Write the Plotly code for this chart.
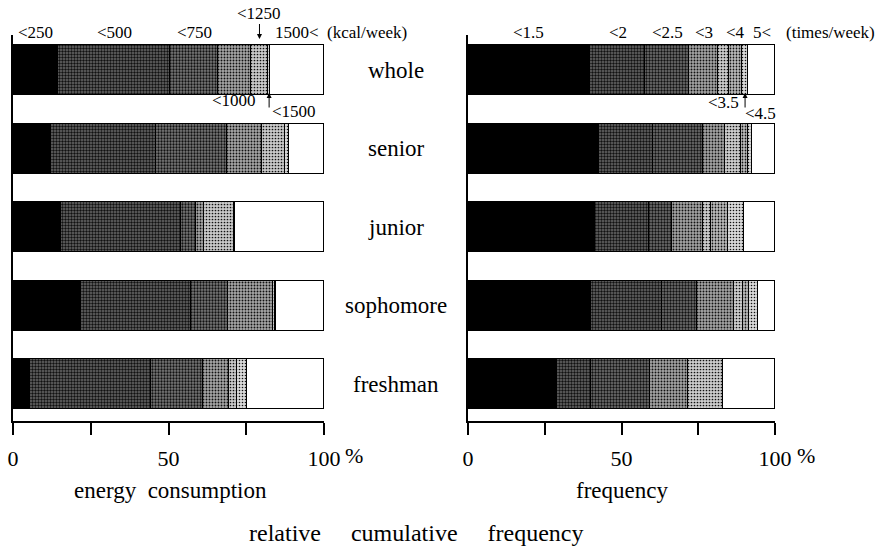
import plotly.graph_objects as go

# ---------------- data ----------------
groups = ["whole", "senior", "junior", "sophomore", "freshman"]

energy_labels = ["<250", "<500", "<750", "<1000", "<1250", "<1500", "1500<"]
energy_whole     = [14.6, 35.9, 15.5, 10.4, 5.7, 0.5, 17.4]
energy_senior    = [12.1, 34.0, 22.6, 11.3, 7.4, 1.3, 11.3]
energy_junior    = [15.4, 38.5, 4.9, 2.6, 9.7, 0.3, 28.6]
energy_sophomore = [22.0, 35.2, 11.8, 14.7, 0.4, 0.5, 15.4]
energy_freshman  = [5.6, 38.9, 16.5, 8.5, 2.4, 3.2, 24.9]

freq_labels = ["<1.5", "<2", "<2.5", "<3", "<3.5", "<4", "<4.5", "5<"]
freq_whole     = [39.7, 18.0, 14.4, 9.4, 3.6, 4.1, 2.1, 8.7]
freq_senior    = [42.6, 17.5, 16.3, 7.3, 5.1, 2.4, 1.3, 7.5]
freq_junior    = [41.5, 17.5, 7.6, 9.9, 2.5, 5.8, 5.0, 10.2]
freq_sophomore = [40.0, 23.3, 11.3, 12.1, 2.9, 2.0, 3.0, 5.4]
freq_freshman  = [29.0, 11.2, 19.2, 12.1, 11.4, 0.0, 0.0, 17.1]

tick_vals = [0, 25, 50, 75, 100]
tick_text = ["0", "", "50", "", "100"]

# ---------------- styles ----------------
W, H = 880, 550
FONT = "Liberation Serif, Times New Roman, Times, serif"
# (background grey, dot solidity) per segment; black / white are plain
energy_fill = [("#000000", 0), ("#6a6a6a", 0.50), ("#7a7a7a", 0.46), ("#a8a8a8", 0.32),
               ("#cacaca", 0.26), ("#d8d8d8", 0.22), ("#ffffff", 0)]
freq_fill = [("#000000", 0), ("#6a6a6a", 0.50), ("#767676", 0.48), ("#a6a6a6", 0.32),
             ("#cdcdcd", 0.26), ("#bdbdbd", 0.28), ("#d8d8d8", 0.22), ("#ffffff", 0)]


def px(x):
    return x / W


def py(y):
    return 1 - y / H


def marker_for(fill):
    col, sol = fill
    m = dict(color=col, line=dict(color="black", width=1.3))
    if sol > 0:
        m["pattern"] = dict(shape=".", fgcolor="#111111", bgcolor=col, size=3,
                            solidity=sol, fillmode="replace")
    return m


energy_rows = [energy_whole, energy_senior, energy_junior, energy_sophomore, energy_freshman]
freq_rows = [freq_whole, freq_senior, freq_junior, freq_sophomore, freq_freshman]

fig = go.Figure()
BAR_W = 0.637
for i, lab in enumerate(energy_labels):
    fig.add_trace(go.Bar(
        orientation="h", y=groups, x=[r[i] for r in energy_rows], name=lab,
        marker=marker_for(energy_fill[i]),
        width=BAR_W, xaxis="x", yaxis="y", showlegend=False, hoverinfo="skip"))
for i, lab in enumerate(freq_labels):
    fig.add_trace(go.Bar(
        orientation="h", y=groups, x=[r[i] for r in freq_rows], name=lab,
        marker=marker_for(freq_fill[i]),
        width=BAR_W, xaxis="x2", yaxis="y2", showlegend=False, hoverinfo="skip"))

y_top_px, y_bot_px = 35, 421
ydom = [py(y_bot_px), py(y_top_px)]
yrange = [-0.467, 4.447]
order = groups[::-1]

xaxis_common = dict(range=[0, 100], showline=True, linecolor="black", linewidth=1.5,
                    ticks="outside", ticklen=12, tickwidth=1.5, tickcolor="black",
                    tickvals=tick_vals, ticktext=tick_text, showgrid=False, zeroline=False,
                    tickfont=dict(family=FONT, size=22, color="black"), ticklabelstandoff=5,
                    fixedrange=True, automargin=False)
yaxis_common = dict(type="category", categoryorder="array", categoryarray=order,
                    range=yrange, domain=ydom, showline=True, linecolor="black", linewidth=1.5,
                    showticklabels=False, ticks="", showgrid=False, zeroline=False,
                    fixedrange=True, automargin=False)

fig.update_layout(
    width=W, height=H, margin=dict(l=0, r=0, t=0, b=0, pad=0), autosize=False,
    paper_bgcolor="white", plot_bgcolor="white", barmode="stack", bargap=0,
    xaxis=dict(domain=[px(13), px(324)], anchor="y", **xaxis_common),
    xaxis2=dict(domain=[px(468), px(775)], anchor="y2", **xaxis_common),
    yaxis=dict(anchor="x", **yaxis_common),
    yaxis2=dict(anchor="x2", **yaxis_common),
    font=dict(family=FONT, color="black"),
)

ann = []
LAB = dict(family=FONT, size=17, color="black")


def mids(row):
    out, c = [], 0.0
    for v in row:
        out.append(c + v / 2)
        c += v
    return out


em = mids(energy_whole)
fm = mids(freq_whole)

# top labels (energy)
for i in [0, 1, 2, 6]:
    ann.append(dict(x=em[i], y=py(32), xref="x", yref="paper", text=energy_labels[i],
                    showarrow=False, font=LAB, xanchor="center", yanchor="middle"))
ann.append(dict(x=px(325), y=py(32), xref="paper", yref="paper", text="(kcal/week)",
                showarrow=False, font=LAB, xanchor="left", yanchor="middle"))
# <1250 with down arrow
ann.append(dict(x=em[4], y=py(39), xref="x", yref="paper", text=energy_labels[4],
                showarrow=True, ax=0, ay=-26, arrowhead=2, arrowsize=1, arrowwidth=1,
                arrowcolor="black", font=LAB))
# <1000 below
ann.append(dict(x=em[3], y=py(101), xref="x", yref="paper", text=energy_labels[3],
                showarrow=False, font=LAB, xanchor="center", yanchor="middle"))
# <1500 with up arrow
ann.append(dict(x=em[5], y=py(93), xref="x", yref="paper", text="",
                showarrow=True, ax=0, ay=16, arrowhead=2, arrowsize=1, arrowwidth=1,
                arrowcolor="black"))
ann.append(dict(x=em[5], y=py(112), xref="x", yref="paper", text=energy_labels[5],
                showarrow=False, font=LAB, xanchor="left", yanchor="middle", xshift=1))

# top labels (frequency)
for i in [0, 1, 2, 3, 5, 7]:
    ann.append(dict(x=fm[i], y=py(32), xref="x2", yref="paper", text=freq_labels[i],
                    showarrow=False, font=LAB, xanchor="center", yanchor="middle"))
ann.append(dict(x=px(784), y=py(32), xref="paper", yref="paper", text="(times/week)",
                showarrow=False, font=LAB, xanchor="left", yanchor="middle"))
ann.append(dict(x=fm[4], y=py(103), xref="x2", yref="paper", text=freq_labels[4],
                showarrow=False, font=LAB, xanchor="center", yanchor="middle"))
ann.append(dict(x=fm[6], y=py(93), xref="x2", yref="paper", text="",
                showarrow=True, ax=0, ay=16, arrowhead=2, arrowsize=1, arrowwidth=1,
                arrowcolor="black"))
ann.append(dict(x=fm[6], y=py(113), xref="x2", yref="paper", text=freq_labels[6],
                showarrow=False, font=LAB, xanchor="left", yanchor="middle", xshift=-2))

# group labels
for g in groups:
    ann.append(dict(x=px(396), y=g, xref="paper", yref="y", text=g, showarrow=False,
                    font=dict(family=FONT, size=23, color="black"),
                    xanchor="center", yanchor="middle"))

# percent signs
for xp in [354, 806]:
    ann.append(dict(x=px(xp), y=py(455), xref="paper", yref="paper", text="%",
                    showarrow=False, font=dict(family=FONT, size=22, color="black"),
                    xanchor="center", yanchor="middle"))

NB = "\u00a0"
ann.append(dict(x=px(170), y=py(490), xref="paper", yref="paper",
                text="energy" + NB * 2 + "consumption", showarrow=False,
                font=dict(family=FONT, size=23, color="black"), xanchor="center", yanchor="middle"))
ann.append(dict(x=px(622), y=py(490), xref="paper", yref="paper", text="frequency",
                showarrow=False, font=dict(family=FONT, size=23, color="black"),
                xanchor="center", yanchor="middle"))
ann.append(dict(x=px(416), y=py(533), xref="paper", yref="paper",
                text="relative" + NB * 5 + "cumulative" + NB * 5 + "frequency", showarrow=False,
                font=dict(family=FONT, size=24, color="black"), xanchor="center", yanchor="middle"))

fig.update_layout(annotations=ann)
fig.write_html("out.html")
